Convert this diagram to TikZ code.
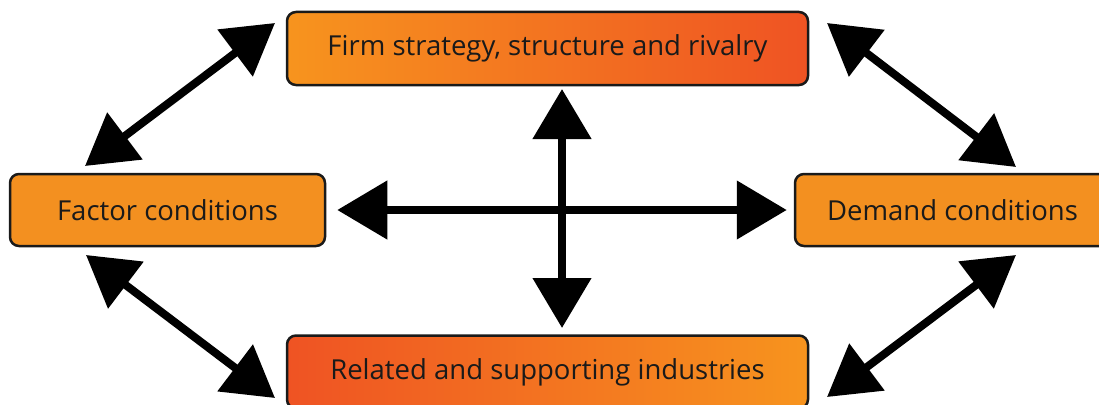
\documentclass[tikz,border=0pt]{standalone}
\usepackage{fontspec}
\setmainfont{Open Sans}
\usetikzlibrary{arrows.meta}
\definecolor{orA}{HTML}{F7941E}
\definecolor{orB}{HTML}{EF5323}
\definecolor{orS}{HTML}{F39020}
\definecolor{edge}{HTML}{1A1A1A}
\begin{document}
\begin{tikzpicture}[x=1pt,y=-1pt,
  box/.style={draw=edge, line width=2.5pt, rounded corners=9pt, inner sep=0pt,
    font=\fontsize{27.5}{32}\selectfont, text=edge},
  biarrow/.style={line width=8pt,
    {Triangle[length=50pt,width=57pt]}-{Triangle[length=50pt,width=57pt]}}]
\useasboundingbox (0,0) rectangle (1099,404);
\node[box, minimum width=521pt, minimum height=73pt, left color=orA, right color=orB] (firm) at (547.5,48.5) {Firm strategy, structure and rivalry};
\node[box, minimum width=315pt, minimum height=72pt, fill=orS] (factor) at (167.5,210) {Factor conditions};
\node[box, minimum width=315pt, minimum height=72pt, fill=orS] (demand) at (952.5,210) {Demand conditions};
\node[box, minimum width=521pt, minimum height=73pt, left color=orB, right color=orA] (rel) at (547.5,372) {Related and supporting industries};
\coordinate (tl1) at (85,166); \coordinate (tl2) at (275,23);
\coordinate (tr1) at (827,23); \coordinate (tr2) at (1016,167);
\coordinate (bl1) at (86,255); \coordinate (bl2) at (275,398);
\coordinate (br1) at (1016,255); \coordinate (br2) at (827,397);
\coordinate (v1) at (562,89); \coordinate (v2) at (562,328);
\draw[biarrow] (tl1) -- (tl2);
\draw[biarrow] (tr1) -- (tr2);
\draw[biarrow] (bl1) -- (bl2);
\draw[biarrow] (br1) -- (br2);
\draw[biarrow] (v1) -- (v2);
\draw[biarrow, shorten <=11pt, shorten >=7pt] (factor.east) -- (demand.west);
\end{tikzpicture}
\end{document}
